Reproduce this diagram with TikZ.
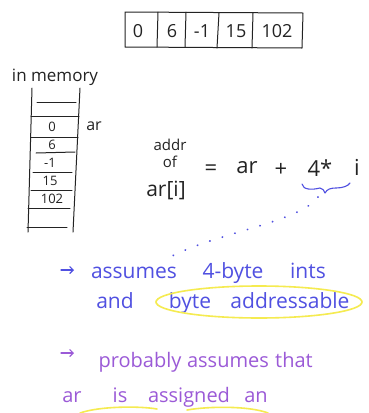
\documentclass[tikz,border=0pt]{standalone}
\usepackage{fontspec}
\setmainfont{Open Sans}
\usetikzlibrary{arrows.meta}
\definecolor{ink}{RGB}{35,35,35}
\definecolor{blueink}{RGB}{80,80,225}
\definecolor{purpleink}{RGB}{155,90,215}
\definecolor{hilite}{RGB}{245,235,80}
\begin{document}
\begin{tikzpicture}[x=1pt,y=-1pt,line cap=round,line join=round,
  pen/.style={draw=ink,line width=1pt},
  cell/.style={text=ink,font=\fontsize{18}{20}\selectfont,inner sep=0pt},
  memtxt/.style={text=ink,font=\fontsize{13}{14}\selectfont,inner sep=0pt},
  formula/.style={text=ink,font=\fontsize{22}{24}\selectfont,inner sep=0pt},
  small/.style={text=ink,font=\fontsize{15}{16}\selectfont,inner sep=0pt},
  bluetxt/.style={text=blueink,font=\fontsize{21}{24}\selectfont,inner sep=0pt,anchor=base},
  purptxt/.style={text=purpleink,font=\fontsize{20}{24}\selectfont,inner sep=0pt,anchor=base},
  hl/.style={draw=hilite,line width=1.6pt}]
\useasboundingbox[fill=white] (0,0) rectangle (368,413);

% top array
\draw[pen] (125,12) -- (303,13) -- (302,48) -- (125,47) -- cycle;
\draw[pen] (158,12) -- (157,47);
\draw[pen] (186,12) -- (185,47);
\draw[pen] (219,13) -- (217,48);
\draw[pen] (253,13) -- (252,48);
\node[cell] (c0) at (138,31) {0};
\node[cell] (c1) at (172,31) {6};
\node[cell] (c2) at (202,31) {-1};
\node[cell] (c3) at (236,31) {15};
\node[cell] (c4) at (277,31) {102};

% in memory column
\node[text=ink,font=\fontsize{17}{18}\selectfont,inner sep=0pt] (mem) at (55,77) {in memory};
\draw[pen] (32,88) -- (28,232);
\draw[pen] (80,88) -- (73,232);
\draw[pen] (37,102) -- (76,102);
\draw[pen] (31,116) -- (79,116);
\draw[pen] (31,137) -- (78,137);
\draw[pen] (36,153) -- (75,152);
\draw[pen] (33,172) -- (72,172);
\draw[pen] (31,190) -- (72,190);
\draw[pen] (28,208) -- (70,208);
\draw[pen] (27,227) -- (67,227);
\node[memtxt] (m0) at (52,127) {0};
\node[memtxt] (m1) at (52,145) {6};
\node[memtxt] (m2) at (50,163) {-1};
\node[memtxt] (m3) at (50,181) {15};
\node[memtxt] (m4) at (52,199) {102};
\node[memtxt,font=\fontsize{16}{17}\selectfont] (arlab) at (94,126) {ar};

% formula
\node[small] (addr) at (170,145) {addr};
\node[small] (of) at (170,162) {of};
\node[formula,font=\fontsize{21}{22}\selectfont] (ari) at (166,190) {ar[i]};
\node[formula] (eq) at (211,170) {=};
\node[formula] (ar) at (247,168) {ar};
\node[formula] (plus) at (281,170) {+};
\node[formula] (four) at (320,168) {4*};
\node[formula] (ii) at (357,167) {i};

% brace under 4*
\draw[blueink,line width=1.1pt] (302,184) .. controls (303,190) and (312,190) .. (320,188)
  .. controls (323,188) and (324,191) .. (325,193)
  .. controls (327,189) and (331,188) .. (336,188)
  .. controls (343,188) and (348,186) .. (350,183);
\coordinate (brtip) at (318,197);
\coordinate (dotend) at (172,256);
\draw[blueink,line width=2pt,dash pattern=on 0.1pt off 13pt] (brtip) .. controls (300,222) and (220,232) .. (dotend);

% blue notes
\draw[blueink,line width=1.2pt,-{Straight Barb[length=3.5pt,width=7pt]}] (61,270) -- (74,270);
\node[bluetxt] (b1) at (134,278) {assumes};
\node[bluetxt] (b2) at (233,278) {4-byte};
\node[bluetxt] (b3) at (308,278) {ints};
\node[bluetxt] (b4) at (115,308) {and};
\node[bluetxt] (b5) at (190,308) {byte};
\node[bluetxt] (b6) at (290,308) {addressable};
\draw[hl] (259,302) ellipse (103 and 16);

% purple notes
\draw[purpleink,line width=1.2pt,-{Straight Barb[length=3.5pt,width=7pt]}] (61,353) -- (74,353);
\node[purptxt] (p1) at (140,367) {probably};
\node[purptxt] (p2) at (228,367) {assumes};
\node[purptxt] (p3) at (294,367) {that};
\node[purptxt] (p4) at (72,402) {ar};
\node[purptxt] (p5) at (120,402) {is};
\node[purptxt] (p6) at (189,402) {assigned};
\node[purptxt] (p7) at (256,402) {an};
\draw[hl] (80,413) .. controls (100,406) and (140,406) .. (157,409);
\draw[hl] (187,410) .. controls (210,406) and (250,406) .. (268,413);
\end{tikzpicture}
\end{document}
